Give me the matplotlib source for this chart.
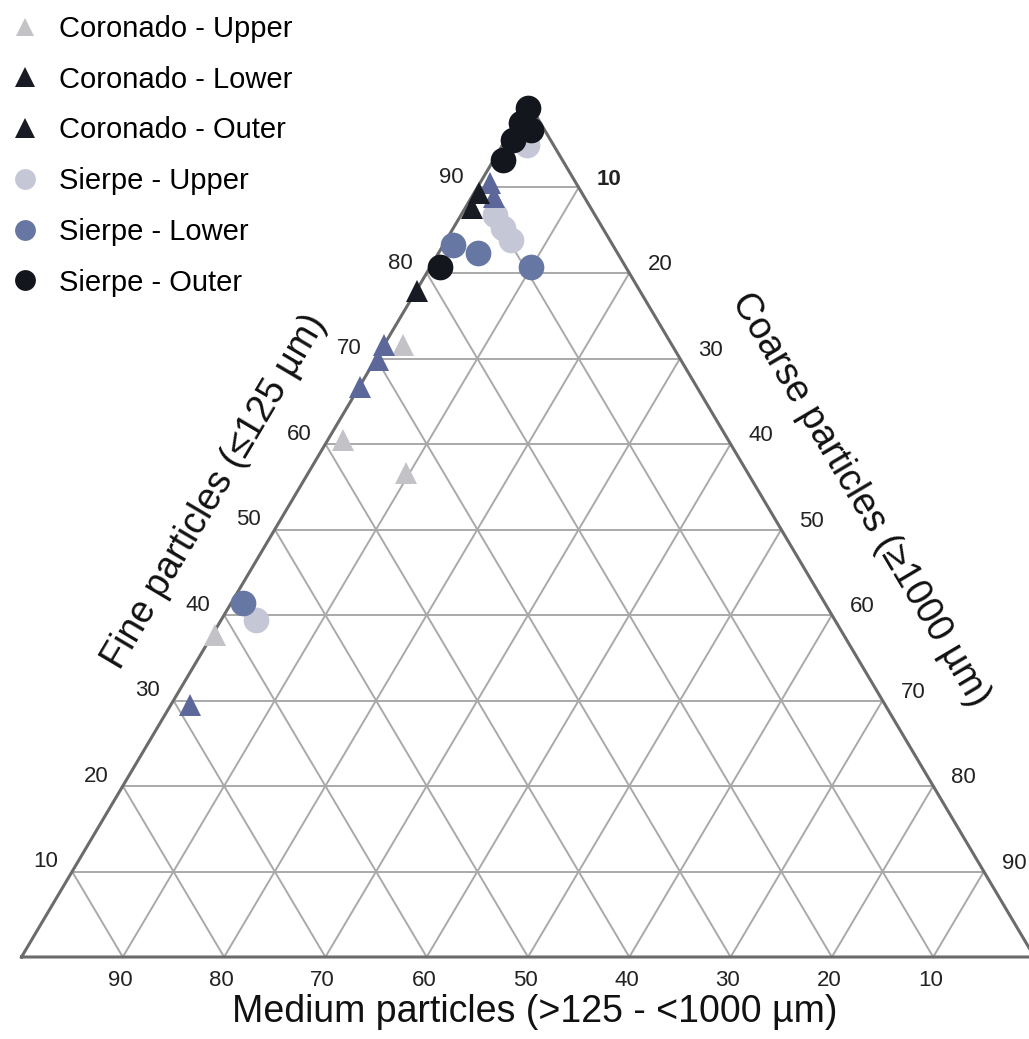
import matplotlib
matplotlib.use("Agg")
import matplotlib.pyplot as plt
from matplotlib.lines import Line2D
import numpy as np

plt.rcParams['font.family'] = ['Liberation Sans', 'DejaVu Sans']

# ---- data: (fine %, coarse %) ; medium = 100 - fine - coarse ----
coronado_upper_fine = [71.6, 60.5, 56.6, 37.7]
coronado_upper_coarse = [1.9, 1.5, 9.7, 0.3]

coronado_lower_fine = [90.5, 88.9, 71.6, 69.8, 66.7, 29.5]
coronado_lower_coarse = [1.0, 2.2, 0.0, 0.3, 0.1, 1.9]

coronado_outer_fine = [89.4, 87.6, 77.9]
coronado_outer_coarse = [0.5, 0.7, 0.1]

sierpe_upper_fine = [95.0, 86.8, 85.3, 83.9, 39.4]
sierpe_upper_coarse = [2.4, 3.3, 4.9, 6.4, 3.4]

sierpe_lower_fine = [83.3, 82.3, 80.7, 41.4]
sierpe_lower_coarse = [0.9, 3.9, 9.9, 1.2]

sierpe_outer_fine = [99.3, 97.5, 96.7, 95.6, 93.2, 80.7]
sierpe_outer_coarse = [0.35, 0.6, 1.95, 0.7, 0.9, 1.0]

tick_values = [10, 20, 30, 40, 50, 60, 70, 80, 90]
series_labels = ["Coronado - Upper", "Coronado - Lower", "Coronado - Outer",
                 "Sierpe - Upper", "Sierpe - Lower", "Sierpe - Outer"]

# ---- figure ----
W, H = 1029, 1039
fig = plt.figure(figsize=(W / 100, H / 100), dpi=100)
fig.patch.set_facecolor("white")
ax = fig.add_axes([21.5 / W, (H - 957) / H, 1013 / W, 855 / H])
ax.set_xlim(0, 100)
ax.set_ylim(0, 100)
ax.axis("off")


def cart(fine, coarse):
    f = np.asarray(fine, float)
    c = np.asarray(coarse, float)
    return c + f / 2.0, f


grid_col = "#a9a9a9"
for k in tick_values:
    # constant fine
    ax.plot([k / 2, 100 - k / 2], [k, k], color=grid_col, lw=1.4, clip_on=False, zorder=1)
    # constant coarse
    ax.plot([k, 50 + k / 2], [0, 100 - k], color=grid_col, lw=1.4, clip_on=False, zorder=1)
    # constant medium
    ax.plot([100 - k, (100 - k) / 2], [0, 100 - k], color=grid_col, lw=1.4, clip_on=False, zorder=1)

ax.plot([0, 100, 50, 0], [0, 0, 100, 0], color="#6b6b6b", lw=2.2, clip_on=False,
        zorder=2, solid_joinstyle="miter")

# ---- tick labels ----
tfs = 16
for k in tick_values:
    # fine on left edge
    x, y = cart(k, 0)
    ax.annotate(str(k), (x, y), xytext=(-19, 7), textcoords="offset points",
                ha="center", va="center", fontsize=tfs, color="#222222")
    # coarse on right edge
    x, y = cart(100 - k, k)
    ax.annotate(str(k), (x, y), xytext=(22, 6), textcoords="offset points",
                ha="center", va="center", fontsize=tfs, color="#222222",
                fontweight="bold" if k == 10 else "normal")
    # medium on bottom edge
    x, y = cart(0, 100 - k)
    ax.annotate(str(k), (x, y), xytext=(-2, -17), textcoords="offset points",
                ha="center", va="center", fontsize=tfs, color="#222222")

# ---- axis titles ----
ang = np.degrees(np.arctan2(855, 506.5))
ax.text(19.1, 54.4, "Fine particles (≤125 µm)", rotation=ang, rotation_mode="anchor",
        ha="center", va="center", fontsize=27, color="#111111")
ax.text(82.8, 53.5, "Coarse particles (≥1000 µm)", rotation=-ang, rotation_mode="anchor",
        ha="center", va="center", fontsize=27, color="#111111")
ax.text(50.7, -6.4, "Medium particles (>125 - <1000 µm)", ha="center", va="center",
        fontsize=27, color="#111111", clip_on=False)

# ---- points ----
c_cu = "#c3c3c7"
c_cl = "#5b6899"
c_co = "#181a24"
c_su = "#c6c7d6"
c_sl = "#6777a3"
c_so = "#14161e"

tri_s = 16.5
cir_s = 18.5
series = [
    (coronado_upper_fine, coronado_upper_coarse, "^", c_cu, tri_s),
    (sierpe_upper_fine, sierpe_upper_coarse, "o", c_su, cir_s),
    (coronado_lower_fine, coronado_lower_coarse, "^", c_cl, tri_s),
    (sierpe_lower_fine, sierpe_lower_coarse, "o", c_sl, cir_s),
    (coronado_outer_fine, coronado_outer_coarse, "^", c_co, tri_s),
    (sierpe_outer_fine, sierpe_outer_coarse, "o", c_so, cir_s),
]
for f, c, mk, col, ms in series:
    x, y = cart(f, c)
    ax.plot(x, y, linestyle="none", marker=mk, markersize=ms, color=col,
            markeredgewidth=0, clip_on=False, zorder=5)

# ---- legend (marker colours as shown in the reference legend) ----
leg_cols = [c_cu, c_co, c_co, c_su, c_sl, c_so]
leg_marks = ["^", "^", "^", "o", "o", "o"]
leg_sizes = [13, 15, 15, 15, 15, 15]
handles = [Line2D([], [], linestyle="none", marker=m, color=col, markersize=s,
                  markeredgewidth=0) for m, col, s in zip(leg_marks, leg_cols, leg_sizes)]
fig.legend(handles, series_labels, loc="upper left", bbox_to_anchor=(-0.004, 0.997),
           frameon=False, fontsize=21, labelspacing=0.78, handletextpad=0.55,
           handlelength=1.2, borderaxespad=0)

fig.savefig("out.png", dpi=100, facecolor="white")
